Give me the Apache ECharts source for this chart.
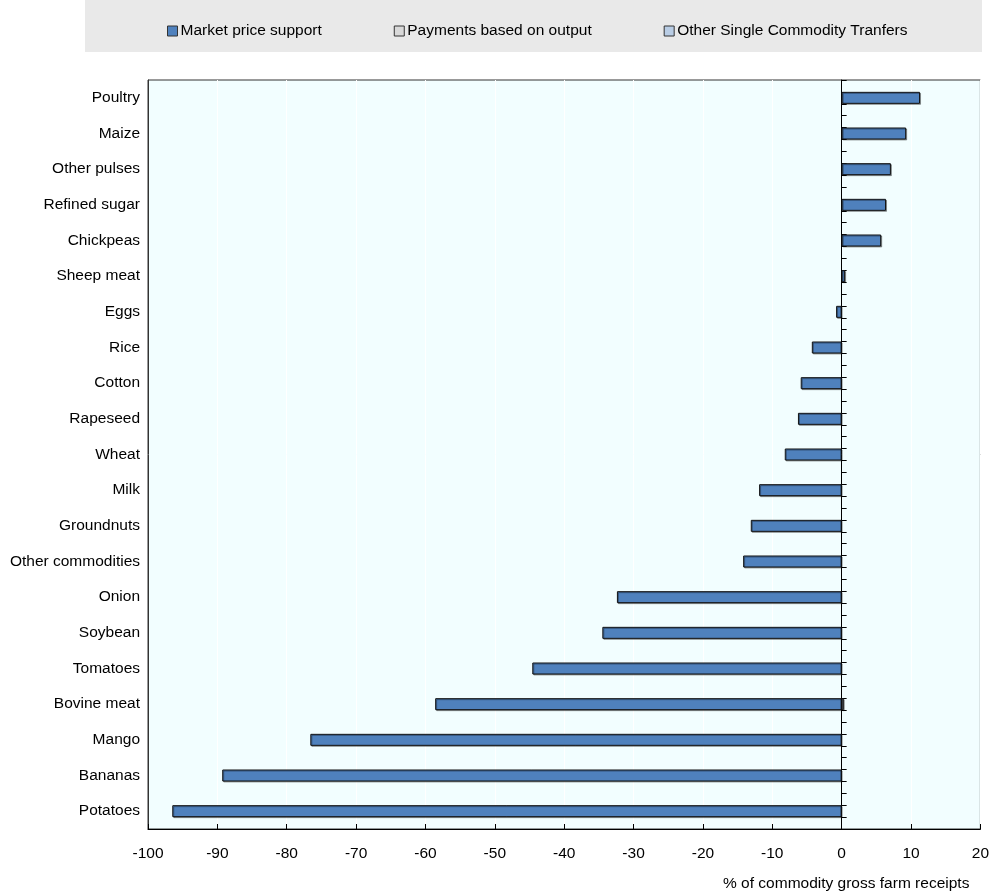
<!DOCTYPE html>
<html><head><meta charset="utf-8">
<script src="https://cdn.jsdelivr.net/npm/echarts@6/dist/echarts.min.js"></script>
<style>html,body{margin:0;padding:0;background:#fff}#c{width:992px;height:894px}</style>
</head><body><div id="c"></div>
<script>
const categories = ["Potatoes","Bananas","Mango","Bovine meat","Tomatoes","Soybean","Onion","Other commodities","Groundnuts","Milk","Wheat","Rapeseed","Cotton","Rice","Eggs","Sheep meat","Chickpeas","Refined sugar","Other pulses","Maize","Poultry"];
const marketPriceSupport = [-96.5,-89.3,-76.6,-58.6,-44.6,-34.5,-32.4,-14.2,-13.1,-11.9,-8.2,-6.3,-5.9,-4.3,-0.8,0.5,5.7,6.4,7.1,9.3,11.3];
const paymentsOutput = [0,0,0,0,0,0,0,0,0,0,0,0,0,0,0,0,0,0,0,0,0];
const otherSCT = [0,0,0,0.3,0,0,0,0,0,0,0,0,0,0,0,0,0,0,0,0,0];
const xTicks = {min:-100, max:20, interval:10};
const seriesNames = ["Market price support","Payments based on output","Other Single Commodity Tranfers"];
const colors = ["#4f81bd","#d9d9d9","#b9cde5"];

const chart = echarts.init(document.getElementById('c'), null, {renderer:'canvas'});
const font = 'Liberation Sans, Arial, sans-serif';
const fs = 15.5;
function barSeries(name, data, color){
  return {name, type:'bar', stack:'a', data:data.map(v => v === 0 ? '-' : v), barWidth:12, xAxisIndex:0, yAxisIndex:0,
    itemStyle:{color, borderColor:'#111', borderWidth:1, shadowColor:'rgba(0,0,0,0.35)', shadowOffsetX:1, shadowOffsetY:1, shadowBlur:0}};
}
chart.setOption({
  animation:false,
  textStyle:{fontFamily:font},
  graphic:[{type:'rect', shape:{x:85,y:0,width:897,height:52}, style:{fill:'#e9e9e9'}, z:-1}],
  legend:{top:18, left:162, itemGap:72, itemWidth:10, itemHeight:10,
    textStyle:{fontFamily:font, fontSize:fs, color:'#000', padding:[0,0,0,-2]},
    data:seriesNames.map((n,i)=>({name:n, icon:'rect', itemStyle:{color:colors[i], borderColor:'#333', borderWidth:1}}))},
  grid:{left:148, right:11, top:80, bottom:65, show:true, backgroundColor:'#f2feff', borderColor:'#333', borderWidth:1},
  xAxis:[{type:'value', min:xTicks.min, max:xTicks.max, interval:xTicks.interval,
    axisLine:{show:true, onZero:false, lineStyle:{color:'#000'}},
    axisTick:{show:true, inside:true, length:5, lineStyle:{color:'#000'}},
    axisLabel:{fontSize:fs, color:'#000', margin:17, fontFamily:font},
    splitLine:{show:true, lineStyle:{color:'#fff', width:1}},
    name:'% of commodity gross farm receipts', nameLocation:'end', nameGap:0,
    nameTextStyle:{fontSize:fs, color:'#000', fontFamily:font, align:'right', verticalAlign:'top', padding:[47,11,0,0]}
  }],
  yAxis:[
    {type:'category', data:categories, position:'left',
     axisLine:{show:true, onZero:false, lineStyle:{color:'#333'}}, axisTick:{show:false},
     axisLabel:{fontSize:fs, color:'#000', margin:8, fontFamily:font, padding:[4,0,0,0]}},
    {type:'value', min:0, max:63, interval:1, position:'left',
     axisLine:{show:true, onZero:true, lineStyle:{color:'#000'}},
     axisTick:{show:true, inside:true, length:5, lineStyle:{color:'#000'}},
     axisLabel:{show:false}, splitLine:{show:false}}
  ],
  series:[
    barSeries(seriesNames[0], marketPriceSupport, colors[0]),
    barSeries(seriesNames[1], paymentsOutput, colors[1]),
    barSeries(seriesNames[2], otherSCT, colors[2])
  ]
});
</script></body></html>
